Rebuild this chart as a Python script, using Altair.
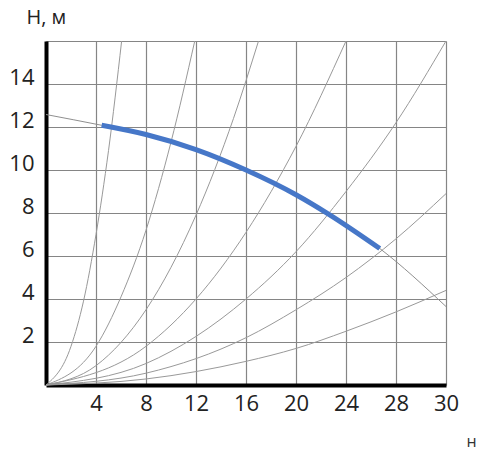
import pandas as pd
import altair as alt

# system curves H(Q)
c1_q = [0, 2, 3, 4, 5, 6.05]
c1_h = [0, 1.8, 3.9, 7.0, 10.9, 16]
c2_q = [0, 4, 6, 8, 10, 11.9]
c2_h = [0, 1.8, 4.1, 7.2, 11.3, 16]
c3_q = [0, 4, 8, 12, 15, 17.0]
c3_h = [0, 0.9, 3.5, 7.9, 12.4, 16]
c4_q = [0, 8, 12, 16, 20, 24]
c4_h = [0, 1.8, 4.0, 7.1, 11.1, 16]
c5_q = [0, 8, 16, 20, 24, 28, 32]
c5_h = [0, 1.0, 4.0, 6.2, 9.0, 12.2, 16]
c6_q = [0, 8, 16, 20, 24, 28, 32]
c6_h = [0, 0.55, 2.2, 3.5, 5.0, 6.8, 8.9]
c7_q = [0, 8, 16, 20, 24, 28, 32]
c7_h = [0, 0.28, 1.1, 1.7, 2.5, 3.4, 4.4]

# pump curve (blue) and its thin extension
pump_q = [4.45, 8, 12, 16, 20, 22.6, 26.7]
pump_h = [12.08, 11.65, 10.95, 10.0, 8.85, 7.95, 6.35]
ext_q = [0, 4.45, 8, 12, 16, 20, 22.6, 26.7, 32]
ext_h = [12.58, 12.08, 11.65, 10.95, 10.0, 8.85, 7.95, 6.35, 3.65]

x_ticks = [0, 4, 8, 12, 16, 20, 24, 28, 32]
x_labels = ["", "4", "8", "12", "16", "20", "24", "28", "30"]
y_ticks = [0, 2, 4, 6, 8, 10, 12, 14, 16]
y_labels = ["", "2", "4", "6", "8", "10", "12", "14", ""]

curves = [(c1_q, c1_h), (c2_q, c2_h), (c3_q, c3_h), (c4_q, c4_h),
          (c5_q, c5_h), (c6_q, c6_h), (c7_q, c7_h)]
sys_df = pd.concat([pd.DataFrame({"curve": i, "q": q, "h": h})
                    for i, (q, h) in enumerate(curves)])
pump_df = pd.DataFrame({"q": pump_q, "h": pump_h})
ext_df = pd.DataFrame({"q": ext_q, "h": ext_h})

font = "Open Sans"
x_expr = "[" + ",".join(f"'{s}'" for s in x_labels) + "][indexof(" + str(x_ticks) + ", datum.value)]"
y_expr = "[" + ",".join(f"'{s}'" for s in y_labels) + "][indexof(" + str(y_ticks) + ", datum.value)]"

x = alt.X("q:Q", scale=alt.Scale(domain=[0, 32], nice=False),
          axis=alt.Axis(values=x_ticks, labelExpr=x_expr, ticks=False,
                        domainColor="black", domainWidth=4,
                        labelFont=font, labelFontSize=22, labelColor="#222",
                        labelPadding=8, labelFlush=False, labelOverlap=False,
                        gridColor="#858585", gridWidth=1.2,
                        title="н", titleFont=font, titleFontSize=16,
                        titleFontWeight="normal", titleColor="#333",
                        titleAnchor="start", titleAlign="right",
                        titleX=430, titleY=56, titleBaseline="middle"))
y = alt.Y("h:Q", scale=alt.Scale(domain=[0, 16], nice=False),
          axis=alt.Axis(values=y_ticks, labelExpr=y_expr, ticks=False,
                        domainColor="black", domainWidth=4,
                        labelFont=font, labelFontSize=22, labelColor="#222",
                        labelPadding=12, labelOffset=-7, labelFlush=False,
                        labelOverlap=False,
                        gridColor="#858585", gridWidth=1.2,
                        title="H, м", titleFont=font, titleFontSize=20,
                        titleFontWeight="normal", titleColor="#222",
                        titleAngle=0, titleAlign="left", titleAnchor="start",
                        titleX=-20, titleY=-18, titleBaseline="alphabetic"))

sys_lines = alt.Chart(sys_df).mark_line(
    color="#999999", strokeWidth=1, interpolate="monotone"
).encode(x=x, y=y, detail="curve:N")

ext_line = alt.Chart(ext_df).mark_line(
    color="#8f8f8f", strokeWidth=1, interpolate="monotone"
).encode(x="q:Q", y="h:Q")

pump_line = alt.Chart(pump_df).mark_line(
    color="#4677C8", strokeWidth=5, strokeCap="butt", interpolate="monotone"
).encode(x="q:Q", y="h:Q")

chart = alt.layer(sys_lines, ext_line, pump_line).properties(
    width=400, height=344,
    autosize=alt.AutoSizeParams(type="none"),
    padding={"left": 38, "top": 33, "right": 31, "bottom": 65},
    background="white",
).configure_view(stroke=None)

chart.save("out.html", embed_options={"renderer": "svg", "actions": False})
